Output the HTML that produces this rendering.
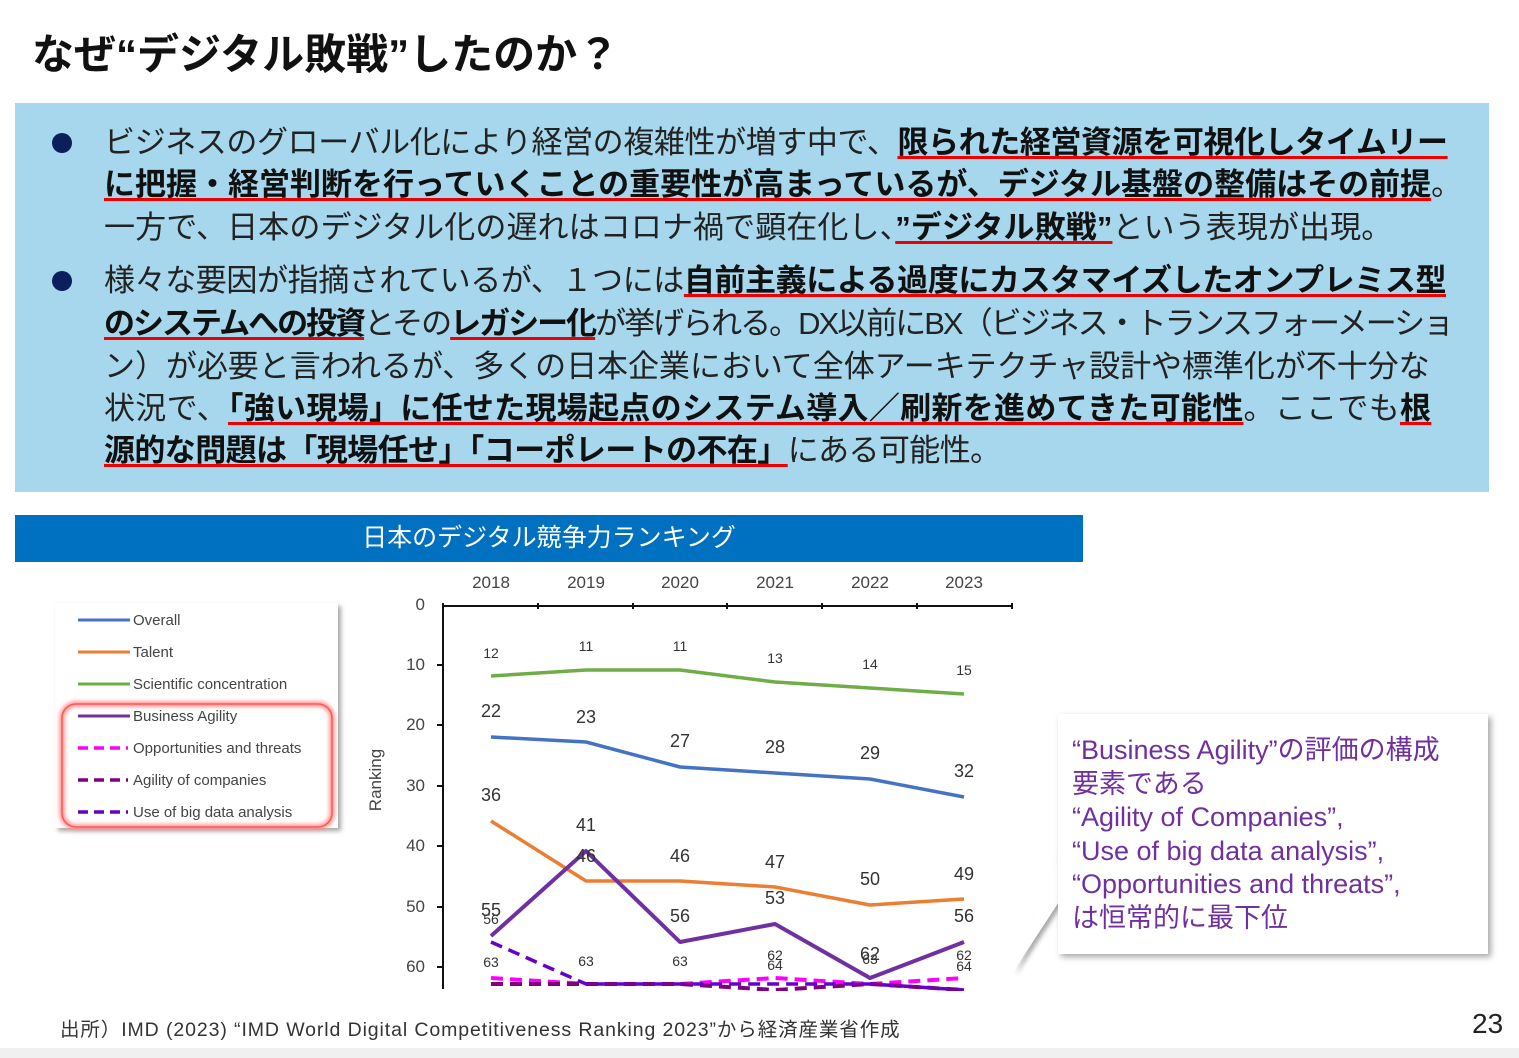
<!DOCTYPE html>
<html><head><meta charset="utf-8"><style>
body{margin:0;width:1519px;height:1058px;overflow:hidden;background:#fff;position:relative;font-family:"Liberation Sans","Noto Sans CJK JP",sans-serif;}
.t{position:absolute;left:32px;top:21px;font-size:42px;font-weight:bold;color:#111;letter-spacing:0px}
.box{position:absolute;left:15px;top:103px;width:1474px;height:389px;background:#a6d7ec}
.ln{position:absolute;left:104px;font-size:31px;color:#222;white-space:nowrap;line-height:40px;letter-spacing:-0.6px}
.ln b{text-decoration:underline;text-decoration-color:#e00;text-decoration-thickness:3px;text-underline-offset:3px;color:#111}
.dot{position:absolute;left:52px;width:20px;height:20px;border-radius:50%;background:#0a1f5c}
.hdr{position:absolute;left:15px;top:515px;width:1068px;height:47px;background:#0070c0;color:#fff;font-size:25px;line-height:47px;text-align:center;box-sizing:border-box;padding-right:0px}
.call{position:absolute;left:1058px;top:714px;width:430px;height:240px;background:#fff;box-shadow:3px 3px 6px rgba(0,0,0,.35);color:#7030a0;font-size:27px;line-height:33.5px;padding:20px 0 0 14px;box-sizing:border-box;white-space:nowrap}
.foot{position:absolute;left:60px;top:1013px;font-size:19.5px;color:#333;letter-spacing:0.9px}
.pg{position:absolute;left:1472px;top:1008px;font-size:28px;color:#222}
</style></head><body>
<div class="t">なぜ“デジタル敗戦”したのか？</div>
<div class="box"></div>
<div class="dot" style="top:133px"></div>
<div class="dot" style="top:271px"></div>
<div class="ln" style="top:123px;letter-spacing:-0.4px">ビジネスのグローバル化により経営の複雑性が増す中で、<b>限られた経営資源を可視化しタイムリー</b></div>
<div class="ln" style="top:165px;letter-spacing:0px"><b>に把握・経営判断を行っていくことの重要性が高まっているが、デジタル基盤の整備はその前提</b>。</div>
<div class="ln" style="top:208px;letter-spacing:0.1px">一方で、日本のデジタル化の遅れはコロナ禍で顕在化し、<b>”デジタル敗戦”</b>という表現が出現。</div>
<div class="ln" style="top:261px;letter-spacing:-0.4px">様々な要因が指摘されているが、１つには<b>自前主義による過度にカスタマイズしたオンプレミス型</b></div>
<div class="ln" style="top:304px;letter-spacing:-2px"><b>のシステムへの投資</b>とその<b>レガシー化</b>が挙げられる。DX以前にBX（ビジネス・トランスフォーメーショ</div>
<div class="ln" style="top:347px;letter-spacing:-0.05px">ン）が必要と言われるが、多くの日本企業において全体アーキテクチャ設計や標準化が不十分な</div>
<div class="ln" style="top:389px;letter-spacing:0.3px">状況で、<b>「強い現場」に任せた現場起点のシステム導入／刷新を進めてきた可能性</b>。ここでも<b>根</b></div>
<div class="ln" style="top:431px"><b>源的な問題は「現場任せ」「コーポレートの不在」</b>にある可能性。</div>
<div class="hdr">日本のデジタル競争力ランキング</div>
<svg style="position:absolute;left:0;top:0" width="1519" height="1058" font-family="Liberation Sans, sans-serif">
<defs><filter id="sh" x="-10%" y="-10%" width="130%" height="130%"><feDropShadow dx="3" dy="3" stdDeviation="2.5" flood-opacity="0.35"/></filter>
<filter id="gl"><feGaussianBlur stdDeviation="2"/></filter></defs>
<rect x="55" y="603" width="283" height="225" fill="#fff" filter="url(#sh)"/>
<rect x="62" y="704" width="270" height="123" rx="14" fill="none" stroke="#f88" stroke-width="5" filter="url(#gl)"/>
<rect x="62" y="704" width="270" height="123" rx="14" fill="none" stroke="#f55" stroke-width="1.5"/>
<g font-size="15" fill="#444">
<line x1="78" y1="620" x2="130" y2="620" stroke="#4472c4" stroke-width="3"/><text x="133" y="625">Overall</text>
<line x1="78" y1="652" x2="130" y2="652" stroke="#ed7d31" stroke-width="3"/><text x="133" y="657">Talent</text>
<line x1="78" y1="684" x2="130" y2="684" stroke="#70ad47" stroke-width="3"/><text x="133" y="689">Scientific concentration</text>
<line x1="78" y1="716" x2="130" y2="716" stroke="#7030a0" stroke-width="3"/><text x="133" y="721">Business Agility</text>
<line x1="78" y1="748" x2="128" y2="748" stroke="#f0f" stroke-width="3.5" stroke-dasharray="10,6"/><text x="133" y="753">Opportunities and threats</text>
<line x1="78" y1="780" x2="128" y2="780" stroke="#800080" stroke-width="3.5" stroke-dasharray="10,6"/><text x="133" y="785">Agility of companies</text>
<line x1="78" y1="812" x2="128" y2="812" stroke="#6600cc" stroke-width="3.5" stroke-dasharray="10,6"/><text x="133" y="817">Use of big data analysis</text>
</g>
<g font-size="17" fill="#444" text-anchor="middle">
<text x="491" y="588">2018</text><text x="586" y="588">2019</text><text x="680" y="588">2020</text><text x="775" y="588">2021</text><text x="870" y="588">2022</text><text x="964" y="588">2023</text>
</g>
<g font-size="17" fill="#444" text-anchor="end">
<text x="425" y="610">0</text><text x="425" y="670">10</text><text x="425" y="730">20</text><text x="425" y="791">30</text><text x="425" y="851">40</text><text x="425" y="912">50</text><text x="425" y="972">60</text>
</g>
<text transform="translate(381,780) rotate(-90)" font-size="17" fill="#444" text-anchor="middle">Ranking</text>
<g stroke="#111" stroke-width="2" fill="none">
<polyline points="443,989 443,606 1012,606"/>
<line x1="443" y1="603" x2="443" y2="606"/><line x1="538" y1="603" x2="538" y2="609"/><line x1="633" y1="603" x2="633" y2="609"/><line x1="727" y1="603" x2="727" y2="609"/><line x1="822" y1="603" x2="822" y2="609"/><line x1="917" y1="603" x2="917" y2="609"/><line x1="1012" y1="603" x2="1012" y2="609"/>
<line x1="437" y1="665" x2="443" y2="665"/><line x1="437" y1="725" x2="443" y2="725"/><line x1="437" y1="786" x2="443" y2="786"/><line x1="437" y1="846" x2="443" y2="846"/><line x1="437" y1="907" x2="443" y2="907"/><line x1="437" y1="967" x2="443" y2="967"/>
</g>
<g fill="none" stroke-linejoin="round">
<polyline stroke="#70ad47" stroke-width="3.5" points="491,676 586,670 680,670 775,682 870,688 964,694"/>
<polyline stroke="#4472c4" stroke-width="3.5" points="491,737 586,742 680,767 775,773 870,779 964,797"/>
<polyline stroke="#ed7d31" stroke-width="3.5" points="491,821 586,881 680,881 775,887 870,905 964,899"/>
<polyline stroke="#f0f" stroke-width="4" stroke-dasharray="12,7" points="491,978 586,984 680,984 775,978 870,984 964,978"/>
<polyline stroke="#800080" stroke-width="4" stroke-dasharray="12,7" points="491,984 586,984 680,984 775,990 870,984 964,990"/>
<polyline stroke="#6600cc" stroke-width="3.5" stroke-dasharray="12,7" points="491,942 586,984 680,984 775,984 870,984 964,990"/>
<polyline stroke="#7030a0" stroke-width="4" points="491,936 586,851 680,942 775,924 870,978 964,942"/>
</g>
<rect x="0" y="991" width="1040" height="20" fill="#fff"/>
<g font-size="14" fill="#333" text-anchor="middle">
<text x="491" y="658">12</text><text x="586" y="651">11</text><text x="680" y="651">11</text><text x="775" y="663">13</text><text x="870" y="669">14</text><text x="964" y="675">15</text>
<text x="491" y="967">63</text><text x="586" y="966">63</text><text x="680" y="966">63</text><text x="775" y="970">64</text><text x="870" y="964">63</text><text x="964" y="971">64</text>
<text x="775" y="960">62</text><text x="964" y="960">62</text>
</g>
<g font-size="18" fill="#333" text-anchor="middle">
<text x="491" y="717">22</text><text x="586" y="723">23</text><text x="680" y="747">27</text><text x="775" y="753">28</text><text x="870" y="759">29</text><text x="964" y="777">32</text>
<text x="491" y="801">36</text><text x="586" y="831">41</text><text x="586" y="862">46</text><text x="680" y="862">46</text><text x="775" y="868">47</text><text x="870" y="885">50</text><text x="964" y="880">49</text>
<text x="491" y="916">55</text><text x="680" y="922">56</text><text x="775" y="904">53</text><text x="870" y="960">62</text><text x="964" y="922">56</text>
</g>
<text x="491" y="924" font-size="14" fill="#333" text-anchor="middle">56</text>
<polygon points="1060,850 1013,972 1060,900" fill="#fff" filter="url(#sh)"/>
<rect x="0" y="1048" width="1519" height="10" fill="#f0f0f0"/>
</svg>
<div class="call">“Business Agility”の評価の構成<br>要素である<br>“Agility of Companies”,<br>“Use of big data analysis”,<br>“Opportunities and threats”,<br>は恒常的に最下位</div>
<div class="foot">出所）IMD (2023) “IMD World Digital Competitiveness Ranking 2023”から経済産業省作成</div>
<div class="pg">23</div>
</body></html>
